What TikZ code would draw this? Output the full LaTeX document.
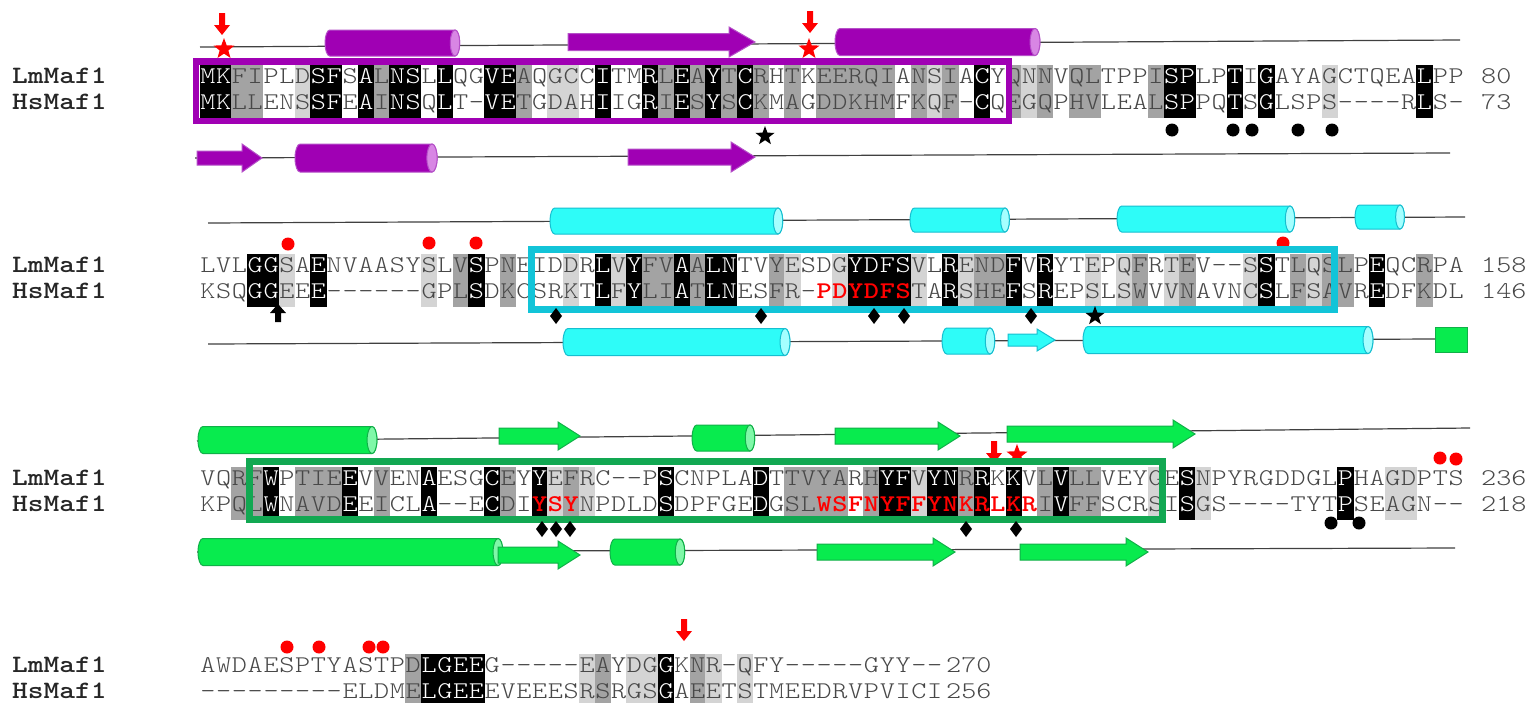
\documentclass[tikz,border=0pt]{standalone}
\usepackage{fontspec}
\newfontfamily\seqfont{lmmonolt10-regular.otf}[BoldFont=lmmonolt10-bold.otf,FakeStretch=1.2]
\usetikzlibrary{shapes.geometric}
\definecolor{shD}{HTML}{A3A3A3}
\definecolor{shL}{HTML}{D4D4D4}
\definecolor{txt}{HTML}{484848}
\definecolor{purp}{HTML}{A000B4}
\definecolor{purpE}{HTML}{B550C8}
\definecolor{purpC}{HTML}{D886E4}
\definecolor{cyn}{HTML}{2EFCF8}
\definecolor{cynE}{HTML}{16BFD0}
\definecolor{cynC}{HTML}{A5FFFF}
\definecolor{cynB}{HTML}{12C4D8}
\definecolor{grn}{HTML}{08EB4E}
\definecolor{grnE}{HTML}{10B048}
\definecolor{grnC}{HTML}{80F8A8}
\definecolor{grnB}{HTML}{12A852}
\definecolor{redM}{HTML}{FF0000}
\tikzset{
  res/.style={anchor=base,inner sep=0pt,text=txt,font=\seqfont\fontsize{24}{24}\selectfont},
  redbold/.style={text=redM,font=\seqfont\fontsize{24}{24}\selectfont\bfseries},
  bgk/.style={fill=black}, bgd/.style={fill=shD}, bgl/.style={fill=shL}, bgw/.style={},
  bgK/.style={fill=black}, bgD/.style={fill=shD}, bgL/.style={fill=shL}, bgW/.style={},
  tlk/.style={text=white}, tld/.style={}, tll/.style={}, tlw/.style={},
  tlK/.style={text=white}, tlD/.style={}, tlL/.style={}, tlW/.style={},
  thk/.style={text=white}, thd/.style={}, thl/.style={}, thw/.style={},
  thK/.style={redbold}, thD/.style={redbold}, thL/.style={redbold}, thW/.style={redbold},
  lab/.style={anchor=base west,inner sep=0pt,text=black!85,font=\seqfont\fontsize{25}{25}\selectfont\bfseries},
  num/.style={anchor=base west,inner sep=0pt,text=txt,font=\seqfont\fontsize{24}{24}\selectfont},
  track/.style={draw=black!75,line width=1.2pt},
  rdot/.style={circle,fill=redM,inner sep=0pt,minimum size=13pt},
  kdot/.style={circle,fill=black,inner sep=0pt,minimum size=13pt},
  rstar/.style={star,star points=5,star point ratio=2.4,fill=redM,inner sep=0pt,minimum size=22pt},
  kstar/.style={star,star points=5,star point ratio=2.4,fill=black,inner sep=0pt,minimum size=20pt},
}
\newcommand\rescolbg[3]{%
  \pgfmathsetmacro\resx{192.1+15.8*#1}%
  \path[bg#3] (\resx-8.1,#2-18) rectangle (\resx+8.1,#2+34.5);
}
\newcommand\rescoltx[6]{%
  \pgfmathsetmacro\resx{192.1+15.8*#2}%
  \node[res,tl#6] (b#1l#2) at (\resx,#3) {#4};
  \node[res,th#6] (b#1h#2) at (\resx,#3+26.5) {#5};
}
\ExplSyntaxOn
\NewDocumentCommand \seqblock { m m m m m }
  {
    \int_step_inline:nn { \str_count:n {#5} }
      {
        \use:e
          {
            \exp_not:N \rescolbg
              {##1} {#2}
              { \str_item:nn {#5} {##1} }
          }
      }
    \int_step_inline:nn { \str_count:n {#5} }
      {
        \use:e
          {
            \exp_not:N \rescoltx
              {#1} {##1} {#2}
              { \str_item:nn {#3} {##1} }
              { \str_item:nn {#4} {##1} }
              { \str_item:nn {#5} {##1} }
          }
      }
  }
\ExplSyntaxOff
\newcommand\helix[5]{%
  \pgfmathsetmacro\hry{#4/2}\pgfmathsetmacro\hrx{#4/5.5}%
  \draw[fill=#5,draw=#5E,line width=1pt] (#1+\hrx,#3-\hry) -- (#2,#3-\hry)
    arc[start angle=-90,end angle=90,x radius=\hrx,y radius=\hry]
    -- (#1+\hrx,#3+\hry)
    arc[start angle=90,end angle=270,x radius=\hrx,y radius=\hry] -- cycle;
  \draw[fill=#5C,draw=#5E,line width=1pt] (#2,#3) ellipse[x radius=\hrx,y radius=\hry];
}
\newcommand\strand[7]{%
  \draw[fill=#7,draw=#7E,line width=1pt] (#1,#3-#4/2) -- (#2-#5,#3-#4/2) -- (#2-#5,#3-#6/2)
    -- (#2,#3) -- (#2-#5,#3+#6/2) -- (#2-#5,#3+#4/2) -- (#1,#3+#4/2) -- cycle;
}
\newcommand\redarr[2]{%
  \fill[redM] (#1-3,#2) -- (#1+3,#2) -- (#1+3,#2+12) -- (#1+8,#2+12) -- (#1,#2+22)
    -- (#1-8,#2+12) -- (#1-3,#2+12) -- cycle;
}
\newcommand\uparr[2]{%
  \fill[black] (#1,#2) -- (#1+8,#2+9) -- (#1+3,#2+9) -- (#1+3,#2+18) -- (#1-3,#2+18)
    -- (#1-3,#2+9) -- (#1-8,#2+9) -- cycle;
}
\newcommand\dmd[2]{%
  \fill[black] (#1,#2-8) -- (#1+6,#2) -- (#1,#2+8) -- (#1-6,#2) -- cycle;
}
\begin{document}
\begin{tikzpicture}[x=1pt,y=-1pt]
\useasboundingbox (0,0) rectangle (1531,702);
\fill[white] (0,0) rectangle (1531,702);

% ---------------- block 1 ----------------
\draw[track] (200,47) -- (1460,40);
\helix{325}{455}{43}{26}{purp}
\strand{568}{755}{42}{17}{26}{30}{purp}
\helix{835}{1035}{42}{27}{purp}
\redarr{222}{13}
\node[rstar] (s1) at (224,49) {};
\redarr{810}{11}
\node[rstar] (s2) at (809,49) {};

\node[lab] (l1a) at (12,83) {LmMaf1};
\node[lab] (l1b) at (12,109.5) {HsMaf1};
\seqblock{1}{83}
{MKFIPLDSFSALNSLLQGVEAQGCCITMRLEAYTCRHTKEERQIANSIACYQNNVQLTPPISPLPTIGAYAGCTQEALPP}
{MKLLENSSFEAINSQLT-VETGDAHIIGRIESYSCKMAGDDKHMFKQF-CQEGQPHVLEALSPPQTSGLSPS----RLS-}
{kkddwwlkkwkdkkwkwwkkdwllwkwwkdkdkdkdwdwdddddwdldwkwdldwddwwwdkkwwkwkwwwlwwwwwkww}
\node[num] (n1a) at (1481,83) {80};
\node[num] (n1b) at (1481,109.5) {73};
\draw[purp,line width=6.5pt] (196,61.5) rectangle (1009,121);

\draw[track] (195,158) -- (1450,153);
\strand{197}{262}{158}{14}{20}{28}{purp}
\helix{295}{432}{158}{28}{purp}
\strand{628}{755}{157}{16}{24}{30}{purp}
\node[kstar] (s3) at (765,136) {};
\node[kdot] (k1) at (1172,130) {};
\node[kdot] (k2) at (1233,130) {};
\node[kdot] (k3) at (1252,130) {};
\node[kdot] (k4) at (1298,130) {};
\node[kdot] (k5) at (1332,130) {};

% ---------------- block 2 ----------------
\draw[track] (208,223) -- (1465,217);
\helix{550}{778}{221}{26}{cyn}
\helix{910}{1005}{220}{24}{cyn}
\helix{1117}{1290}{219}{26}{cyn}
\helix{1355}{1400}{217}{24}{cyn}
\node[rdot] (r1) at (288,244) {};
\node[rdot] (r2) at (429,243) {};
\node[rdot] (r3) at (476,243) {};
\node[rdot] (r4) at (1283,243) {};

\node[lab] (l2a) at (12,272) {LmMaf1};
\node[lab] (l2b) at (12,298.5) {HsMaf1};
\seqblock{2}{272}
{LVLGGSAENVAASYSLVSPNEIDDRLVYFVAALNTVYESDGYDFSVLRENDFVRYTEPQFRTEV--SSTLQSLPEQCRPA}
{KSQGGEEE------GPLSDKCSRKTLFYLIATLNESFR-PDYDFSTARSHEFSREPSLSWVVNAVNCSLFSAVREDFKDL}
{wwwkklwkwwwwwwlwdkwdwwwlwklkddkdkkwwdlwWLKKKKlwklddkwkwwlwldwldwwwlkwdlddwkwwdww}
\node[num] (n2a) at (1481,272) {158};
\node[num] (n2b) at (1481,298.5) {146};
\draw[cynB,line width=6.5pt] (531.5,249.5) rectangle (1334.5,309.5);

\draw[track] (208,344) -- (1435,339);
\helix{563}{785}{342}{27}{cyn}
\helix{942}{990}{341}{26}{cyn}
\strand{1008}{1055}{340}{12}{18}{22}{cyn}
\helix{1083}{1368}{340}{27}{cyn}
\draw[fill=grn,draw=grnE,line width=1pt] (1435,327) rectangle (1467,352);
\uparr{278}{304}
\dmd{556}{316}
\dmd{761}{316}
\dmd{874}{316}
\dmd{904}{316}
\dmd{1031}{316}
\node[kstar] (s4) at (1095,316) {};

% ---------------- block 3 ----------------
\draw[track] (197,441) -- (1470,428);
\helix{198}{372}{440}{27}{grn}
\strand{499}{580}{436}{16}{22}{28}{grn}
\helix{692}{750}{438}{26}{grn}
\strand{835}{960}{436}{16}{22}{28}{grn}
\strand{1007}{1195}{434}{16}{22}{28}{grn}
\redarr{994}{441}
\node[rstar] (s5) at (1017,455) {};
\node[rdot] (r5) at (1440,458) {};
\node[rdot] (r6) at (1456,459) {};

\node[lab] (l3a) at (12,485) {LmMaf1};
\node[lab] (l3b) at (12,511.5) {HsMaf1};
\seqblock{3}{485}
{VQRFWPTIEEVVENAESGCEYYEFRC--PSCNPLADTTVYARHYFVYNRRKKVLVLLVEYGESNPYRGDDGLPHAGDPTS}
{KPQLWNAVDEEICLA--ECDIYSYNPDLDSDPFGEDGSLWSFNYFFYNKRLKRIVFFSCRSISGS----TYTPSEAGN--}
{wwddkwdddkwdwwkwwwkdwKLDlwwwwkwwwwwkwddDDWDKKLKKDKWKWdkddwwwlwklwwwwwwwwkwwllwww}
\node[num] (n3a) at (1481,485) {236};
\node[num] (n3b) at (1481,511.5) {218};
\draw[grnB,line width=7pt] (249,461.5) rectangle (1162,519.5);

\draw[track] (197,552) -- (1455,548);
\helix{198}{498}{552}{27}{grn}
\strand{498}{580}{555}{16}{22}{28}{grn}
\helix{610}{680}{552}{26}{grn}
\strand{817}{955}{552}{16}{22}{28}{grn}
\strand{1020}{1148}{552}{16}{22}{28}{grn}
\dmd{542}{529}
\dmd{556}{529}
\dmd{570}{529}
\dmd{966}{529}
\dmd{1016}{529}
\node[kdot] (k6) at (1331,523) {};
\node[kdot] (k7) at (1359,523) {};

% ---------------- block 4 ----------------
\node[rdot] (r7) at (287,647) {};
\node[rdot] (r8) at (319,647) {};
\node[rdot] (r9) at (369,647) {};
\node[rdot] (r10) at (383,647) {};
\redarr{684}{619}

\node[lab] (l4a) at (12,672) {LmMaf1};
\node[lab] (l4b) at (12,698.5) {HsMaf1};
\seqblock{4}{672}
{AWDAESPTYASTPDLGEEG-----EAYDGGKNR-QFY-----GYY--}
{---------ELDMELGEEEVEEESRSRGSGAEETSTMEEDRVPVICI}
{wwwwwwwwwwwwwdkkkkwwwwwwldwllkwdlwlwwwwwwwwwwww}
\node[num] (n4a) at (946,672) {270};
\node[num] (n4b) at (946,698.5) {256};
\end{tikzpicture}
\end{document}
